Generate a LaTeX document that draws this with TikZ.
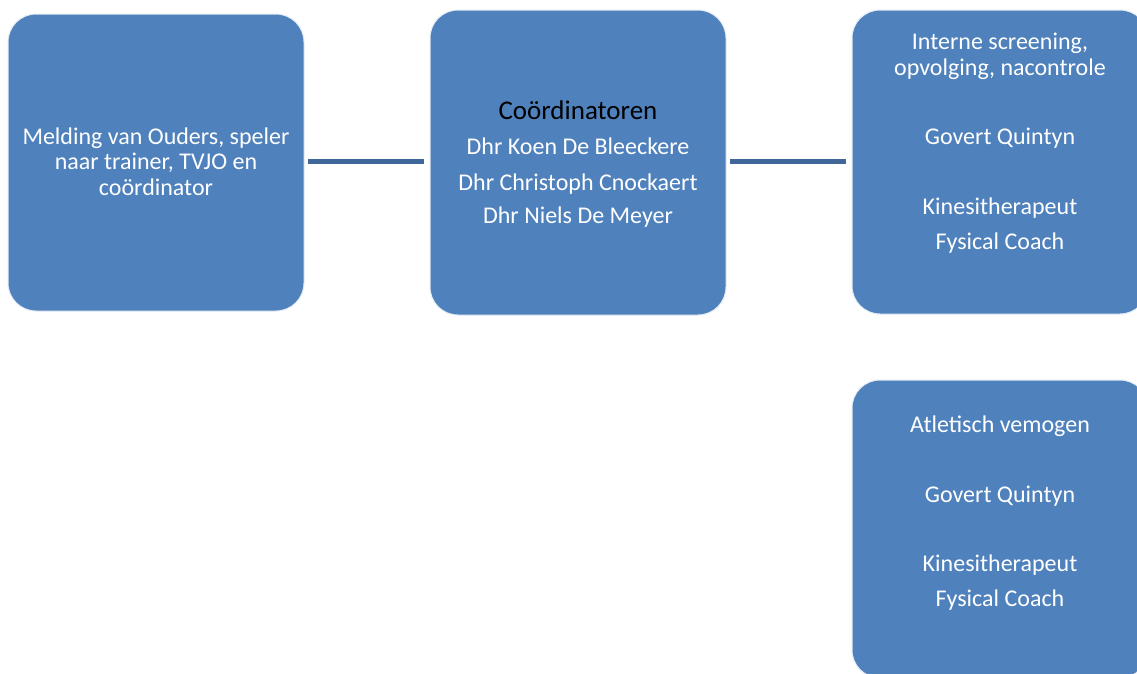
\documentclass[tikz,border=0pt]{standalone}
\usepackage{fontspec}
\setmainfont{Carlito}
\definecolor{boxblue}{HTML}{4F81BD}
\definecolor{linkblue}{HTML}{3F679A}
\begin{document}
\begin{tikzpicture}[x=1pt,y=-1pt,
  boxshape/.style={draw=white!85!boxblue,line width=1pt,fill=boxblue,rounded corners=28pt,
    rectangle,inner sep=0pt,minimum width=296pt},
  label/.style={anchor=base,text=white,font=\fontsize{24}{28}\selectfont,inner sep=0pt,align=center},
  link/.style={draw=linkblue,line width=5pt,shorten <=3pt,shorten >=6pt}]
\clip (0,0) rectangle (1137,673);
\useasboundingbox (0,0) rectangle (1137,673);
\fill[white] (0,0) rectangle (1137,673);
% boxes
\node[boxshape,minimum height=297pt] (b1) at (156,162.5) {};
\node[boxshape,minimum height=305pt] (b2) at (578,162.5) {};
\node[boxshape,minimum height=304pt] (b3) at (1000,162) {};
\node[boxshape,minimum height=298pt] (b4) at (1000,529) {};
\draw[link] (b1.east |- 0,161.5) -- (b2.west |- 0,161.5);
\draw[link] (b2.east |- 0,161.5) -- (b3.west |- 0,161.5);
% box 1
\node[label] (t1a) at (156,144) {Melding van Ouders, speler};
\node[label] (t1b) at (156,169) {naar trainer, TVJO en};
\node[label] (t1c) at (156,195) {coördinator};
% box 2
\node[label,text=black,font=\fontsize{27}{31}\selectfont] (t2a) at (578,119) {Coördinatoren};
\node[label] (t2b) at (578,154) {Dhr Koen De Bleeckere};
\node[label] (t2c) at (578,190) {Dhr Christoph Cnockaert};
\node[label] (t2d) at (578,223) {Dhr Niels De Meyer};
% box 3
\node[label] (t3a) at (1000,49) {Interne screening,};
\node[label] (t3b) at (1000,75) {opvolging, nacontrole};
\node[label] (t3c) at (1000,144) {Govert Quintyn};
\node[label] (t3d) at (1000,214) {Kinesitherapeut};
\node[label] (t3e) at (1000,249) {Fysical Coach};
% box 4
\node[label] (t4a) at (1000,432) {Atletisch vemogen};
\node[label] (t4b) at (1000,502) {Govert Quintyn};
\node[label] (t4c) at (1000,571) {Kinesitherapeut};
\node[label] (t4d) at (1000,606) {Fysical Coach};
\end{tikzpicture}
\end{document}
